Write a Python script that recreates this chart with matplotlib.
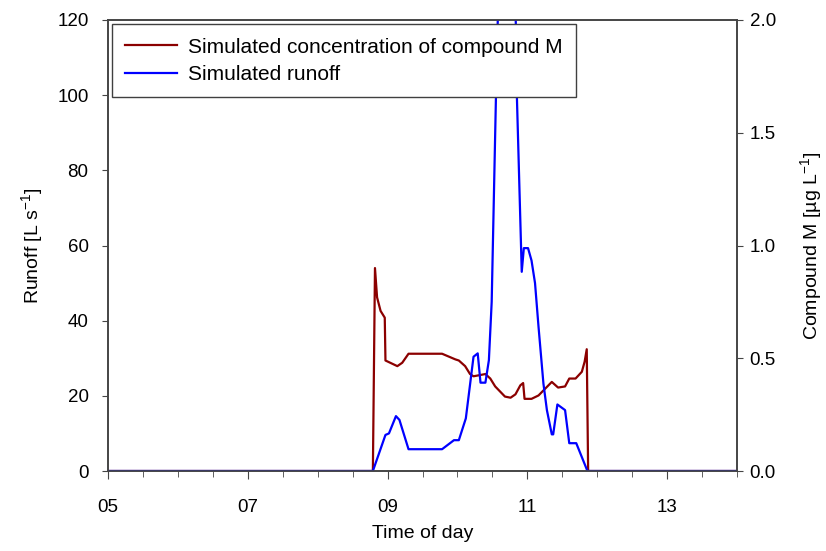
"""
Simulated runoff and concentration of compound M over the time of day.
"""

import matplotlib

matplotlib.use("Agg")
import matplotlib.pyplot as plt
from matplotlib.ticker import FixedLocator, MultipleLocator

plt.rcParams["font.family"] = ["Liberation Sans", "DejaVu Sans"]
plt.rcParams["mathtext.fontset"] = "custom"
plt.rcParams["mathtext.rm"] = "Liberation Sans"
plt.rcParams["mathtext.it"] = "Liberation Sans:italic"
plt.rcParams["font.size"] = 13.5

# time of day in hours
conc_time = [5.0, 8.79, 8.82, 8.85, 8.90, 8.96, 8.97, 9.14, 9.21, 9.30, 9.78,
             9.97, 10.02, 10.11, 10.18, 10.23, 10.40, 10.47, 10.54, 10.68,
             10.76, 10.83, 10.90, 10.94, 10.96, 11.06, 11.16, 11.35, 11.44,
             11.54, 11.60, 11.69, 11.78, 11.82, 11.85, 11.87, 14.0]
conc_value = [0.0, 0.0, 0.90, 0.77, 0.71, 0.68, 0.49, 0.465, 0.48, 0.52, 0.52,
              0.495, 0.49, 0.465, 0.43, 0.42, 0.43, 0.41, 0.375, 0.33,
              0.325, 0.34, 0.38, 0.39, 0.32, 0.32, 0.335, 0.395, 0.37,
              0.375, 0.41, 0.41, 0.44, 0.485, 0.54, 0.0, 0.0]

runoff_time = [5.0, 8.79, 8.97, 9.02, 9.12, 9.17, 9.30, 9.78, 9.95, 10.02,
               10.12, 10.23, 10.29, 10.33, 10.40, 10.45, 10.49, 10.55, 10.60,
               10.70, 10.82, 10.85, 10.92, 10.95, 11.01, 11.06, 11.11, 11.16,
               11.23, 11.28, 11.35, 11.37, 11.43, 11.54, 11.60, 11.70, 11.86,
               14.0]
runoff_value = [0.0, 0.0, 9.6, 10.0, 14.6, 13.6, 5.8, 5.8, 8.2, 8.2,
                14.0, 30.4, 31.3, 23.5, 23.5, 29.5, 45.0, 98.7, 138.0,
                150.0, 138.0, 100.0, 53.0, 59.3, 59.3, 56.0, 50.0, 38.4,
                23.3, 16.2, 9.75, 9.75, 17.7, 16.2, 7.4, 7.4, 0.0,
                0.0]

x_major = [5, 7, 9, 11, 13]
x_labels = ["05", "07", "09", "11", "13"]

SPINE = "#454545"


def main() -> None:
    fig = plt.figure(figsize=(8.26, 5.51), dpi=100)
    ax1 = fig.add_axes([108 / 826, 1 - 471 / 551, 629 / 826, 451 / 551])
    ax2 = ax1.twinx()

    # runoff line must sit on top of the concentration line
    ax1.set_zorder(ax2.get_zorder() + 1)
    ax1.patch.set_visible(False)

    (conc_line,) = ax2.plot(conc_time, conc_value, color="#8B0000", linewidth=1.6,
                            label="Simulated concentration of compound M")
    (runoff_line,) = ax1.plot(runoff_time, runoff_value, color="#0000FF", linewidth=1.6,
                              label="Simulated runoff")

    ax1.set_xlim(5, 14)
    ax1.set_ylim(0, 120)
    ax2.set_ylim(0, 2.0)

    ax1.xaxis.set_major_locator(FixedLocator(x_major))
    ax1.set_xticklabels(x_labels)
    ax1.xaxis.set_minor_locator(MultipleLocator(0.5))
    ax1.yaxis.set_major_locator(MultipleLocator(20))
    ax2.yaxis.set_major_locator(MultipleLocator(0.5))
    ax2.yaxis.set_major_formatter(plt.FormatStrFormatter("%.1f"))

    for ax in (ax1, ax2):
        for spine in ax.spines.values():
            spine.set_color(SPINE)
            spine.set_linewidth(1.2)
    ax1.tick_params(axis="x", which="major", direction="out", length=6, pad=14,
                    color=SPINE)
    ax1.tick_params(axis="x", which="minor", direction="out", length=4, color=SPINE)
    ax1.tick_params(axis="y", direction="out", length=4, pad=10, color=SPINE)
    ax2.tick_params(axis="y", direction="out", length=4, pad=5, color=SPINE)

    ax1.set_xlabel("Time of day", fontsize=14, labelpad=7)
    ax1.set_ylabel("Runoff [L s$^{-1}$]", fontsize=14, labelpad=9)
    ax2.set_ylabel("Compound M [µg L$^{-1}$]", fontsize=14, labelpad=16)

    legend = ax1.legend(handles=[conc_line, runoff_line], loc="upper left",
                        bbox_to_anchor=(0.006, 0.991), borderaxespad=0,
                        fancybox=False, framealpha=1, edgecolor="#404040",
                        fontsize=15, handlelength=2.5, handletextpad=0.5,
                        borderpad=0.65, labelspacing=0.4)
    legend.get_frame().set_linewidth(1.0)
    legend.set_zorder(10)

    fig.savefig("out.png", dpi=100)
    plt.close(fig)


if __name__ == "__main__":
    main()
